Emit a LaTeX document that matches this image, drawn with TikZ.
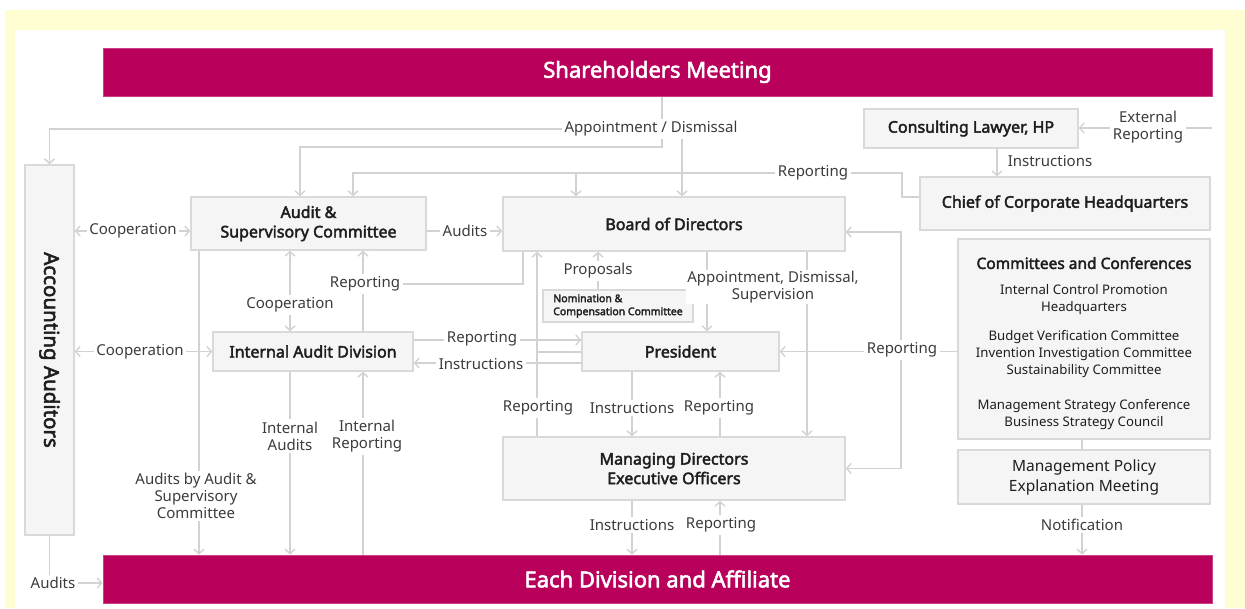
\documentclass[tikz,border=0pt]{standalone}
\usepackage{fontspec}
\setmainfont{Noto Sans}[BoldFont={Noto Sans},BoldFeatures={FakeBold=2.6}]
\usetikzlibrary{arrows.meta}
\definecolor{barred}{HTML}{B9005B}
\definecolor{boxfill}{HTML}{F5F5F5}
\definecolor{boxline}{HTML}{D9D9D9}
\definecolor{wirec}{HTML}{D2D2D2}
\definecolor{frameyel}{HTML}{FFFDD2}
\definecolor{ink}{HTML}{1E1E1E}
\definecolor{lblink}{HTML}{3C3C3C}
\pgfdeclarelayer{paper}
\pgfdeclarelayer{wires}
\pgfsetlayers{paper,wires,main}
\tikzset{bar/.style={fill=barred,draw=barred!75!white,line width=.8pt,inner sep=0pt,minimum width=1109pt,minimum height=48pt,text=white,font=\bfseries\fontsize{22}{24}\selectfont},org/.style={fill=boxfill,draw=boxline,line width=1.4pt,inner sep=0pt,align=center,text=ink,font=\bfseries\fontsize{16}{19.5}\selectfont},lbl/.style={fill=white,inner sep=2.5pt,align=center,text=lblink,font=\fontsize{15}{17}\selectfont},wire/.style={draw=wirec,line width=1.4pt},flow/.style={wire,-{Straight Barb[length=4.5pt,width=10pt]}},both/.style={wire,{Straight Barb[length=4.5pt,width=10pt]}-{Straight Barb[length=4.5pt,width=10pt]}}}

\begin{document}
\begin{tikzpicture}[x=1pt,y=-1pt]
\path[use as bounding box] (0,0) rectangle (1245,608);
\begin{pgfonlayer}{paper}
\fill[frameyel] (5,10) rectangle (1245,608);
\fill[white] (15,30) rectangle (1225,608);
\end{pgfonlayer}
\node[bar] (share) at (657.5,72) {Shareholders Meeting};
\node[bar] (each) at (657.5,579) {Each Division and Affiliate};
\node[org,minimum width=49pt,minimum height=370pt] (acct) at (49.5,350) {};
\node[rotate=-90,inner sep=0pt,text=ink,font=\bfseries\fontsize{20.5}{22}\selectfont] (acctname) at (acct.center) {Accounting Auditors};
\node[org,minimum width=235pt,minimum height=53pt] (acsup) at (308.5,223.5) {Audit \&\\Supervisory Committee};
\node[org,minimum width=342pt,minimum height=54pt] (bod) at (674,224) {Board of Directors};
\node[org,minimum width=214pt,minimum height=39pt] (lawyer) at (971,128.5) {Consulting Lawyer, HP};
\node[org,minimum width=290pt,minimum height=53pt] (chief) at (1065,203.5) {Chief of Corporate Headquarters};
\node[org,minimum width=252pt,minimum height=200pt,font=\fontsize{13.2}{17}\selectfont] (cmte) at (1084,339) {\rule{0pt}{21pt}{\bfseries\fontsize{15.5}{17}\selectfont Committees and Conferences}\\[9pt]Internal Control Promotion\\Headquarters\\[12pt]Budget Verification Committee\\Invention Investigation Committee\\Sustainability Committee\\[18pt]Management Strategy Conference\\Business Strategy Council};
\node[org,minimum width=252pt,minimum height=54pt,font=\fontsize{15.5}{20}\selectfont] (policy) at (1084,477) {Management Policy\\Explanation Meeting};
\node[org,minimum width=150pt,minimum height=32pt,align=left,font=\bfseries\fontsize{10.5}{13}\selectfont] (nomcomp) at (618,306) {Nomination \&\\Compensation Committee};
\node[org,minimum width=200pt,minimum height=39pt] (iad) at (313,351.5) {Internal Audit Division};
\node[org,minimum width=197pt,minimum height=39pt] (pres) at (680.5,351.5) {President};
\node[org,minimum width=342pt,minimum height=63pt] (mdeo) at (674,468.5) {Managing Directors\\Executive Officers};
\coordinate (extin) at (1212,128);
\node[lbl] (appt) at (651,129) {Appointment / Dismissal};
\node[lbl] (chrep) at (813,173) {Reporting};
\node[lbl] (extrep) at (1148,127) {External\\Reporting};
\node[lbl,fill=none] (lawins) at (1050,161) {Instructions};
\node[lbl] (coopacc) at (133,231) {Cooperation};
\node[lbl] (audbod) at (465,231) {Audits};
\node[lbl] (coopiad) at (290,305) {Cooperation};
\node[lbl] (iadrep) at (365,284) {Reporting};
\node[lbl] (propos) at (598,271) {Proposals};
\node[lbl,inner sep=1pt] (apptpres) at (773,287) {Appointment, Dismissal,\\Supervision};
\node[lbl] (coopacc2) at (140,352) {Cooperation};
\node[lbl] (iadpres) at (482,339) {Reporting};
\node[lbl] (presiad) at (481,364) {Instructions};
\node[lbl] (cmterep) at (902,350) {Reporting};
\node[lbl] (mdbod) at (538,408) {Reporting};
\node[lbl] (presmd) at (632,408) {Instructions};
\node[lbl] (mdpres) at (719,408) {Reporting};
\node[lbl] (intaud) at (290,436) {Internal\\Audits};
\node[lbl] (intrep) at (367,436) {Internal\\Reporting};
\node[lbl] (asceach) at (196,496) {Audits by Audit \&\\Supervisory\\Committee};
\node[lbl] (mdeach) at (632,525) {Instructions};
\node[lbl] (eachmd) at (721,525) {Reporting};
\node[lbl] (notif) at (1082,525) {Notification};
\node[lbl] (accaud) at (53,583) {Audits};
\begin{pgfonlayer}{wires}
\draw[flow] (share.south -| 662,0) |- (300,147) -- (acsup.north -| 300,0);
\draw[flow] (appt.west) -| (acct.north);
\draw[flow] (appt.south -| 682,0) -- (bod.north -| 682,0);
\draw[wire] (chief.west |- 0,197) -| (902,173) -- (chrep.east);
\draw[flow] (chrep.west) -| (acsup.north -| 353,0);
\draw[flow] (576,173) -- (bod.north -| 576,0);
\draw[flow] (extin) -- (lawyer.east |- extin);
\draw[flow] (lawyer.south -| 997,0) -- (chief.north -| 997,0);
\draw[both] (acct.east |- 0,231) -- (acsup.west |- 0,231);
\draw[flow] (acsup.east |- 0,231) -- (bod.west |- 0,231);
\draw[both] (acct.east |- iad.west) -- (iad.west);
\draw[both] (acsup.south -| 290,0) -- (iad.north -| 290,0);
\draw[flow] (iad.north -| 363,0) -- (acsup.south -| 363,0);
\draw[wire] (iadrep.east) -| (bod.south -| 523,0);
\draw[flow] (iad.east |- 0,340) -- (pres.west |- 0,340);
\draw[flow] (pres.west |- 0,363) -- (iad.east |- 0,363);
\draw[flow] (mdeo.north -| 537,0) -- (bod.south -| 537,0);
\draw[wire] (pres.west |- 0,352) -- (537,352);
\draw[flow] (nomcomp.north -| 598,0) -- (bod.south -| 598,0);
\draw[flow] (bod.south -| 707,0) -- (pres.north -| 707,0);
\draw[flow] (bod.south -| 807,0) -- (mdeo.north -| 807,0);
\draw[flow] (pres.south -| 632,0) -- (mdeo.north -| 632,0);
\draw[flow] (mdeo.north -| 720,0) -- (pres.south -| 720,0);
\draw[flow] (cmte.west |- pres.east) -- (pres.east);
\draw[both] (bod.east |- 0,232) -- (901,232) -- (901,468.5) -- (mdeo.east);
\draw[wire] (cmte.south -| 1082,0) -- (policy.north -| 1082,0);
\draw[flow] (policy.south -| 1082,0) -- (each.north -| 1082,0);
\draw[flow] (mdeo.south -| 632,0) -- (each.north -| 632,0);
\draw[flow] (each.north -| 720,0) -- (mdeo.south -| 720,0);
\draw[flow] (acsup.south -| 199,0) -- (each.north -| 199,0);
\draw[flow] (iad.south -| 290,0) -- (each.north -| 290,0);
\draw[flow] (each.north -| 363,0) -- (iad.south -| 363,0);
\draw[flow] (acct.south) |- (each.west |- accaud.east);
\end{pgfonlayer}
\end{tikzpicture}
\end{document}
